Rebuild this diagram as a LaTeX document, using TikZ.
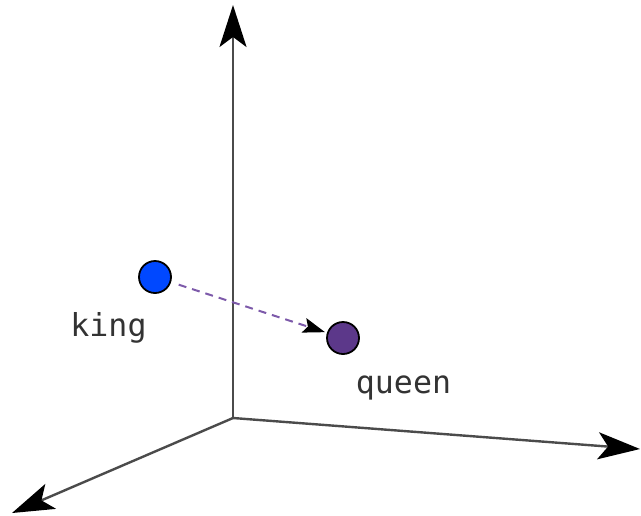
\documentclass[tikz,border=0pt]{standalone}
\usepackage{fontspec}
\setmonofont{DejaVu Sans Mono}
\usetikzlibrary{arrows.meta}
\definecolor{kingblue}{RGB}{0,72,255}
\definecolor{queenpurple}{RGB}{92,56,138}
\definecolor{vecpurple}{RGB}{125,90,170}
\definecolor{axisgray}{RGB}{75,75,75}
\begin{document}
\begin{tikzpicture}[x=0.5pt, y=-0.5pt,
    axis/.style={draw=axisgray, line width=1.2pt, -{Stealth[length=21pt, width=13.5pt, inset=5pt, black]}},
    word/.style={circle, draw=black, line width=0.9pt, minimum size=16pt, inner sep=0pt},
    wordlabel/.style={anchor=base, font=\ttfamily\fontsize{15.8}{19}\selectfont, text=black!80},
    offset/.style={draw=vecpurple, line width=1pt, dash pattern=on 4pt off 3pt, -{Stealth[length=11pt, width=7.5pt, inset=2pt, black]}, shorten <=4pt, shorten >=1pt}]
  \useasboundingbox (0,0) rectangle (641,515);

  % Assi
  \coordinate (O) at (233,418);
  \coordinate (up) at (233,5);
  \coordinate (right) at (640,449);
  \coordinate (front) at (12,513);
  \draw[axis] (O) -- (up);
  \draw[axis] (O) -- (right);
  \draw[axis] (O) -- (front);

  % Parole
  \node[word, fill=kingblue] (king) at (155,277) {};
  \node[word, fill=queenpurple] (queen) at (343,338) {};
  \node[wordlabel] (kinglabel) at (108.5,336) {king};
  \node[wordlabel] (queenlabel) at (403.5,393) {queen};

  % Vettore
  \draw[offset] (king) -- (queen);
\end{tikzpicture}
\end{document}
